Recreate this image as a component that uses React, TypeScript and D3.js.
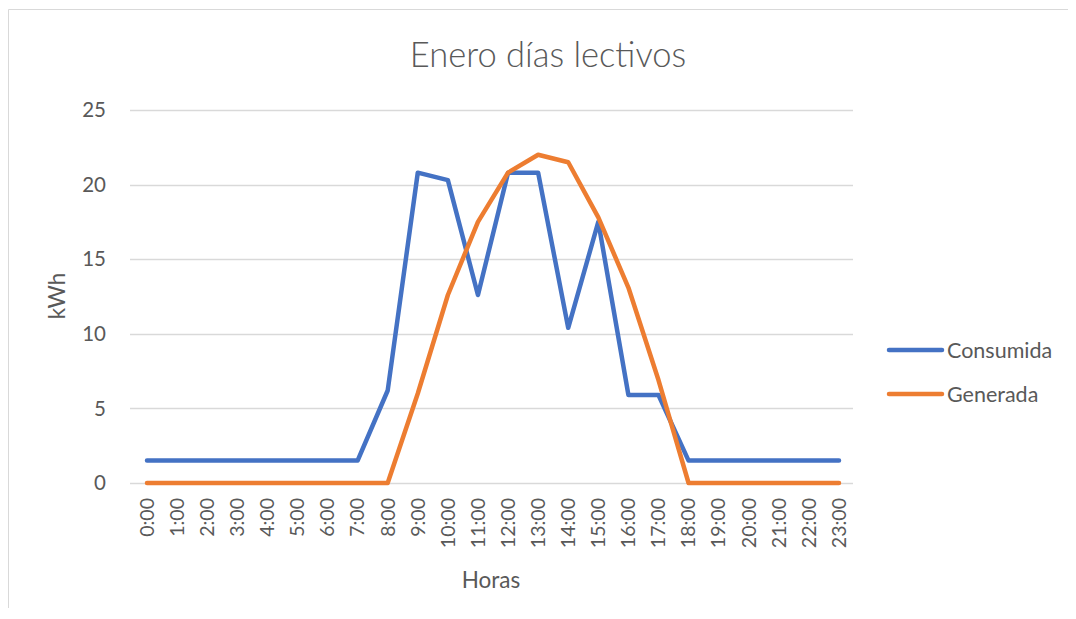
import React from "react";
import * as d3 from "d3";

const hours = ["0:00","1:00","2:00","3:00","4:00","5:00","6:00","7:00","8:00","9:00","10:00","11:00","12:00","13:00","14:00","15:00","16:00","17:00","18:00","19:00","20:00","21:00","22:00","23:00"];
const consumida = [1.5,1.5,1.5,1.5,1.5,1.5,1.5,1.5,6.2,20.8,20.3,12.6,20.8,20.8,10.4,17.5,5.9,5.9,1.5,1.5,1.5,1.5,1.5,1.5];
const generada = [0,0,0,0,0,0,0,0,0,6.0,12.6,17.5,20.8,22.0,21.5,17.8,13.1,6.9,0,0,0,0,0,0];
const yTicks = [0,5,10,15,20,25];
const seriesNames = ["Consumida","Generada"];
const colors = ["#4472C4","#ED7D31"];

const W = 1060, H = 600;
// svg origin is at page (8,8)
const x0 = 139, x1 = 831; // tick positions in svg coords
const yBottom = 475, yTop = 102;
const FONT = "Lato, 'Open Sans', sans-serif";
const TXT = "#595959";

export default function App() {
  const x = d3.scalePoint<string>().domain(hours).range([x0, x1]);
  const y = d3.scaleLinear().domain([0, 25]).range([yBottom, yTop]);
  const line = d3.line<number>()
    .x((_, i) => x(hours[i]) as number)
    .y((d) => y(d));
  const series = [consumida, generada];
  return (
    <svg width={W} height={H} style={{ display: "block" }} xmlns="http://www.w3.org/2000/svg">
      <rect x={0} y={0} width={W} height={H} fill="#fff" />
      <line x1={0.5} y1={1.5} x2={W} y2={1.5} stroke="#d9d9d9" />
      <line x1={0.5} y1={1.5} x2={0.5} y2={H} stroke="#d9d9d9" />
      <text x={540} y={59} textAnchor="middle" fontFamily={FONT} fontWeight={300} fontSize={34.5} fill={TXT}>Enero días lectivos</text>
      {yTicks.map((t) => (
        <g key={t}>
          <line x1={122} x2={845} y1={Math.round(y(t)) + 0.5} y2={Math.round(y(t)) + 0.5} stroke="#d9d9d9" strokeWidth={1.3} />
          <text x={98} y={y(t)} dy="0.35em" textAnchor="end" fontFamily={FONT} fontSize={20.5} fill={TXT}>{t}</text>
        </g>
      ))}
      {hours.map((h) => (
        <text key={h} transform={`translate(${x(h)},${490}) rotate(-90)`} textAnchor="end" dy="0.35em" fontFamily={FONT} fontSize={19.5} fill={TXT}>{h}</text>
      ))}
      <text x={483} y={580} textAnchor="middle" fontFamily={FONT} fontSize={22.5} fill={TXT}>Horas</text>
      <text transform={`translate(${49},${288}) rotate(-90)`} textAnchor="middle" dy="0.35em" fontFamily={FONT} fontSize={22.5} fill={TXT}>kWh</text>
      {series.map((s, i) => (
        <path key={i} d={line(s) as string} fill="none" stroke={colors[i]} strokeWidth={4.5} strokeLinejoin="round" strokeLinecap="round" />
      ))}
      {seriesNames.map((n, i) => (
        <g key={n}>
          <line x1={881} x2={934} y1={342 + i * 44} y2={342 + i * 44} stroke={colors[i]} strokeWidth={4.5} strokeLinecap="round" />
          <text x={939} y={342 + i * 44} dy="0.35em" fontFamily={FONT} fontSize={21.5} fill={TXT}>{n}</text>
        </g>
      ))}
    </svg>
  );
}
